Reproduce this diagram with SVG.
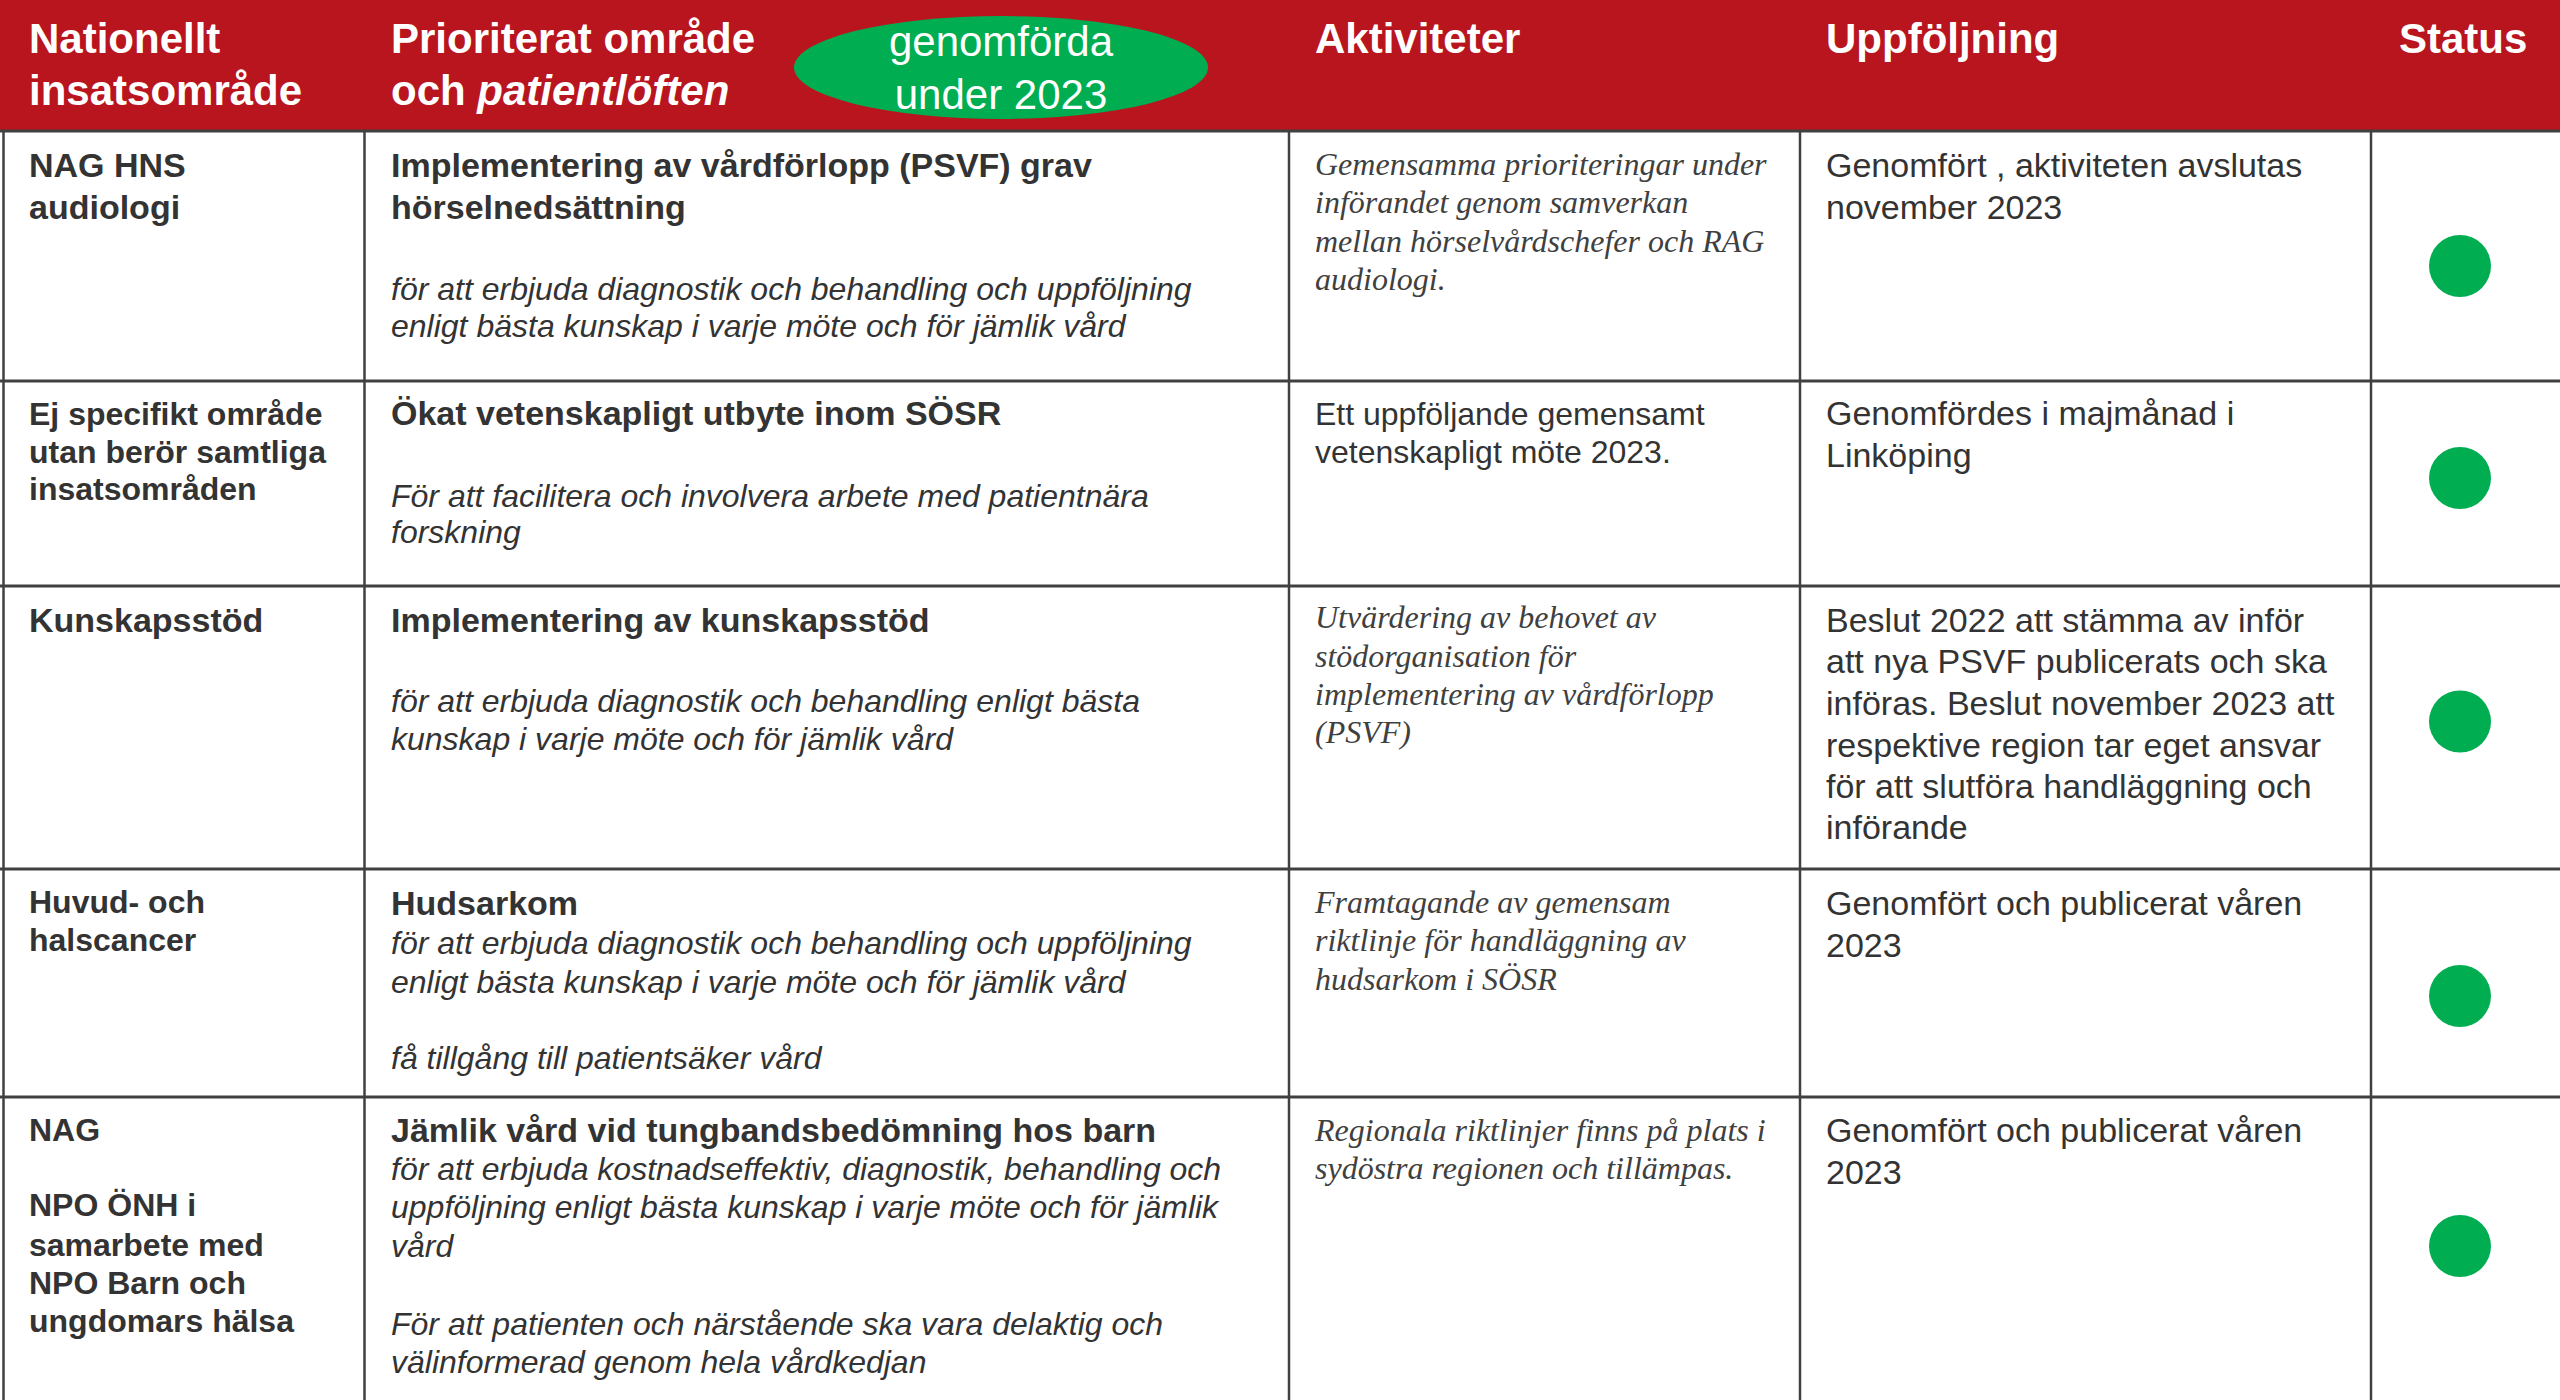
<svg xmlns="http://www.w3.org/2000/svg" width="2560" height="1400" viewBox="0 0 2560 1400">
<style>
.hd{font-family:"Liberation Sans",Arial,sans-serif;font-size:42px;font-weight:bold;fill:#ffffff}
.b{font-family:"Liberation Sans",Arial,sans-serif;font-size:34px;font-weight:bold;fill:#333333}
.b32{font-family:"Liberation Sans",Arial,sans-serif;font-size:32px;font-weight:bold;fill:#333333}
.i{font-family:"Liberation Sans",Arial,sans-serif;font-size:32px;font-style:italic;fill:#333333}
.r{font-family:"Liberation Sans",Arial,sans-serif;font-size:34px;fill:#333333}
.r32{font-family:"Liberation Sans",Arial,sans-serif;font-size:32px;fill:#333333}
.s{font-family:"Liberation Serif","Times New Roman",serif;font-size:32px;font-style:italic;fill:#404040}
.dot{fill:#00AD50}
.gl{stroke:#404040;stroke-width:2.5;fill:none}
.gh{stroke:#404040;stroke-width:3;fill:none}
</style>
<rect x="0" y="0" width="2560" height="1400" fill="#ffffff"/>
<g id="header">
<rect x="0" y="0" width="2560" height="131" fill="#B9151E"/>
<text class="hd" x="29" y="53">Nationellt<tspan x="29" y="105">insatsområde</tspan></text>
<text class="hd" x="391" y="53">Prioriterat område<tspan x="391" y="105">och <tspan font-style="italic">patientlöften</tspan></tspan></text>
<ellipse cx="1001" cy="67.5" rx="207" ry="51.5" fill="#00AD50"/>
<text x="1001" y="56" text-anchor="middle" font-family="'Liberation Sans',Arial,sans-serif" font-size="42" fill="#ffffff">genomförda<tspan x="1001" y="109">under 2023</tspan></text>
<text class="hd" x="1315" y="53">Aktiviteter</text>
<text class="hd" x="1826" y="53">Uppföljning</text>
<text class="hd" x="2399" y="53">Status</text>
</g>
<g id="grid">
<line class="gh" x1="0" y1="131" x2="2560" y2="131"/>
<line class="gh" x1="0" y1="381" x2="2560" y2="381"/>
<line class="gh" x1="0" y1="586" x2="2560" y2="586"/>
<line class="gh" x1="0" y1="869" x2="2560" y2="869"/>
<line class="gh" x1="0" y1="1097" x2="2560" y2="1097"/>
<line class="gl" x1="3.5" y1="131" x2="3.5" y2="1400"/>
<line class="gl" x1="364.5" y1="131" x2="364.5" y2="1400"/>
<line class="gl" x1="1289" y1="131" x2="1289" y2="1400"/>
<line class="gl" x1="1800" y1="131" x2="1800" y2="1400"/>
<line class="gl" x1="2371" y1="131" x2="2371" y2="1400"/>
</g>
<g id="row1">
<text class="b" x="29" y="177">NAG HNS<tspan x="29" y="219">audiologi</tspan></text>
<text class="b" x="391" y="177">Implementering av vårdförlopp (PSVF) grav<tspan x="391" y="219">hörselnedsättning</tspan></text>
<text class="i" x="391" y="300">för att erbjuda diagnostik och behandling och uppföljning<tspan x="391" y="337">enligt bästa kunskap i varje möte och för jämlik vård</tspan></text>
<text class="s" x="1315" y="175">Gemensamma prioriteringar under<tspan x="1315" y="213">införandet genom samverkan</tspan><tspan x="1315" y="252">mellan hörselvårdschefer och RAG</tspan><tspan x="1315" y="290">audiologi.</tspan></text>
<text class="r" x="1826" y="177">Genomfört , aktiviteten avslutas<tspan x="1826" y="219">november 2023</tspan></text>
<circle class="dot" cx="2460" cy="266" r="31"/>
</g>
<g id="row2">
<text class="b32" x="29" y="425">Ej specifikt område<tspan x="29" y="463">utan berör samtliga</tspan><tspan x="29" y="500">insatsområden</tspan></text>
<text class="b" x="391" y="425">Ökat vetenskapligt utbyte inom SÖSR</text>
<text class="i" x="391" y="507">För att facilitera och involvera arbete med patientnära<tspan x="391" y="543">forskning</tspan></text>
<text class="r32" x="1315" y="425">Ett uppföljande gemensamt<tspan x="1315" y="463">vetenskapligt möte 2023.</tspan></text>
<text class="r" x="1826" y="425">Genomfördes i majmånad i<tspan x="1826" y="467">Linköping</tspan></text>
<circle class="dot" cx="2460" cy="478" r="31"/>
</g>
<g id="row3">
<text class="b" x="29" y="632">Kunskapsstöd</text>
<text class="b" x="391" y="632">Implementering av kunskapsstöd</text>
<text class="i" x="391" y="712">för att erbjuda diagnostik och behandling enligt bästa<tspan x="391" y="750">kunskap i varje möte och för jämlik vård</tspan></text>
<text class="s" x="1315" y="628">Utvärdering av behovet av<tspan x="1315" y="667">stödorganisation för</tspan><tspan x="1315" y="705">implementering av vårdförlopp</tspan><tspan x="1315" y="743">(PSVF)</tspan></text>
<text class="r" x="1826" y="632">Beslut 2022 att stämma av inför<tspan x="1826" y="673">att nya PSVF publicerats och ska</tspan><tspan x="1826" y="715">införas. Beslut november 2023 att</tspan><tspan x="1826" y="757">respektive region tar eget ansvar</tspan><tspan x="1826" y="798">för att slutföra handläggning och</tspan><tspan x="1826" y="839">införande</tspan></text>
<circle class="dot" cx="2460" cy="721.5" r="31"/>
</g>
<g id="row4">
<text class="b32" x="29" y="913">Huvud- och<tspan x="29" y="951">halscancer</tspan></text>
<text class="b" x="391" y="915">Hudsarkom</text>
<text class="i" x="391" y="954">för att erbjuda diagnostik och behandling och uppföljning<tspan x="391" y="993">enligt bästa kunskap i varje möte och för jämlik vård</tspan><tspan x="391" y="1069">få tillgång till patientsäker vård</tspan></text>
<text class="s" x="1315" y="913">Framtagande av gemensam<tspan x="1315" y="951">riktlinje för handläggning av</tspan><tspan x="1315" y="990">hudsarkom i SÖSR</tspan></text>
<text class="r" x="1826" y="915">Genomfört och publicerat våren<tspan x="1826" y="957">2023</tspan></text>
<circle class="dot" cx="2460" cy="996" r="31"/>
</g>
<g id="row5">
<text class="b32" x="29" y="1141">NAG<tspan x="29" y="1216">NPO ÖNH i</tspan><tspan x="29" y="1256">samarbete med</tspan><tspan x="29" y="1294">NPO Barn och</tspan><tspan x="29" y="1332">ungdomars hälsa</tspan></text>
<text class="b" x="391" y="1142">Jämlik vård vid tungbandsbedömning hos barn</text>
<text class="i" x="391" y="1180">för att erbjuda kostnadseffektiv, diagnostik, behandling och<tspan x="391" y="1218">uppföljning enligt bästa kunskap i varje möte och för jämlik</tspan><tspan x="391" y="1257">vård</tspan><tspan x="391" y="1335">För att patienten och närstående ska vara delaktig och</tspan><tspan x="391" y="1373">välinformerad genom hela vårdkedjan</tspan></text>
<text class="s" x="1315" y="1141">Regionala riktlinjer finns på plats i<tspan x="1315" y="1179">sydöstra regionen och tillämpas.</tspan></text>
<text class="r" x="1826" y="1142">Genomfört och publicerat våren<tspan x="1826" y="1184">2023</tspan></text>
<circle class="dot" cx="2460" cy="1246" r="31"/>
</g>
</svg>
